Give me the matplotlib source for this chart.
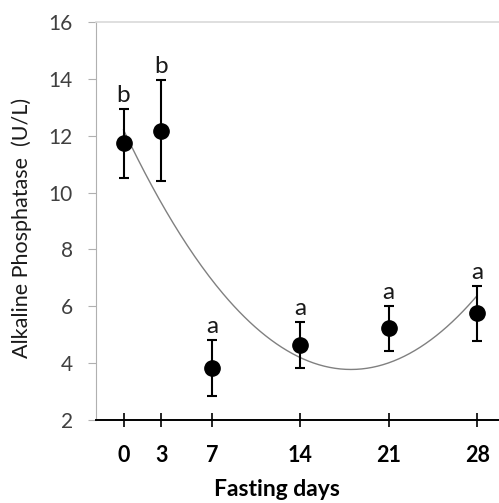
import matplotlib
matplotlib.use('Agg')
import matplotlib.pyplot as plt
import numpy as np

# data
days = [0, 3, 7, 14, 21, 28]
alp_mean = [11.73, 12.18, 3.82, 4.64, 5.22, 5.75]
alp_sd = [1.2, 1.77, 0.98, 0.8, 0.8, 0.98]
letters = ['b', 'b', 'a', 'a', 'a', 'a']
y_ticks = [2, 4, 6, 8, 10, 12, 14, 16]

plt.rcParams['font.family'] = ['Lato', 'DejaVu Sans']

fig = plt.figure(figsize=(4.99, 5.03), dpi=100)
ax = fig.add_axes([96 / 499, 83 / 503, 403 / 499, 398 / 503])

# quadratic trend line through the means
coef = np.polyfit(days, alp_mean, 2)
xs = np.linspace(0, 28, 200)
ax.plot(xs, np.polyval(coef, xs), color='#808080', lw=1.0, zorder=2)

ax.errorbar(days, alp_mean, yerr=alp_sd, fmt='o', color='black',
            markersize=11, elinewidth=1.5, capsize=3.8, capthick=1.5,
            zorder=3)

# significance letters above the bars
for d, m, s, l in zip(days, alp_mean, alp_sd, letters):
    ax.annotate(l, (d, m + s), xytext=(0, 5), textcoords='offset points',
                ha='center', va='baseline', fontsize=17.5, color='#1a1a1a')

ax.set_xlim(-2.18, 29.73)
ax.set_ylim(2, 16)
ax.set_xticks(days)
ax.set_yticks(y_ticks)

ax.spines['right'].set_visible(False)
ax.spines['top'].set_color('#d9d9d9')
ax.spines['top'].set_linewidth(1.2)
ax.spines['left'].set_color('#b0b0b0')
ax.spines['left'].set_linewidth(0.8)
ax.spines['bottom'].set_color('black')
ax.spines['bottom'].set_linewidth(1.4)

ax.tick_params(axis='y', direction='out', length=5.8, width=0.8,
               color='#b0b0b0', labelcolor='#404040', labelsize=15, pad=11)
ax.tick_params(axis='x', direction='inout', length=9.4, width=1.2,
               color='black', labelcolor='black', labelsize=15.5, pad=13)
for lab in ax.get_xticklabels():
    lab.set_fontweight('bold')

ax.set_xlabel('Fasting days', fontsize=16.5, fontweight='bold')
ax.xaxis.set_label_coords(0.449, -0.147)
ax.set_ylabel('Alkaline Phosphatase  (U/L)', fontsize=15.5, color='#1a1a1a')
ax.yaxis.set_label_coords(-0.158, 0.482)

plt.savefig('out.png', dpi=100)
